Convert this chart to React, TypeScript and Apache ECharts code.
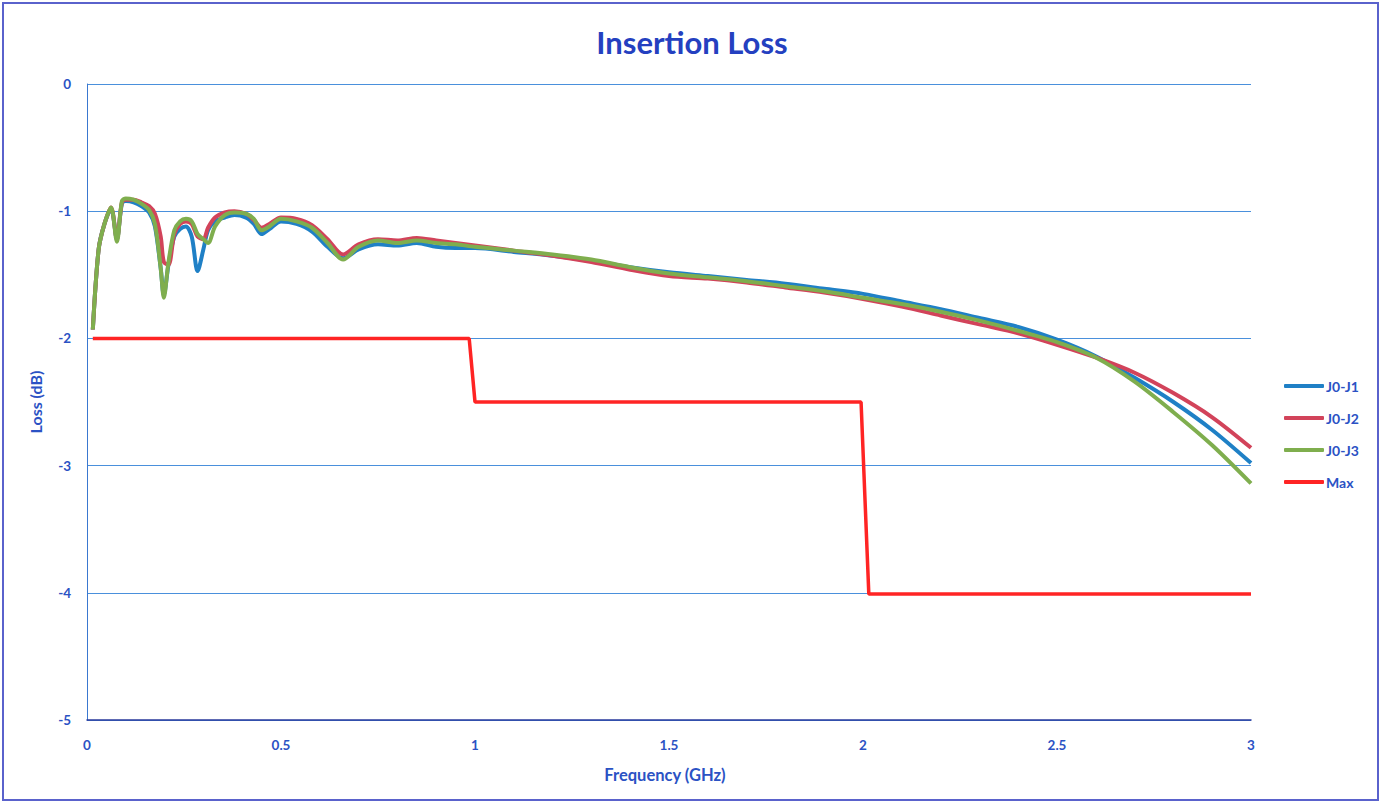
import React, { useEffect, useRef } from "react";
import * as echarts from "echarts";

const freq = [0.015, 0.03, 0.045, 0.062, 0.077, 0.09, 0.1, 0.12, 0.14, 0.16, 0.175, 0.19, 0.198, 0.21, 0.225, 0.24, 0.255, 0.27, 0.285, 0.3, 0.312, 0.33, 0.355, 0.38, 0.41, 0.43, 0.45, 0.47, 0.5, 0.54, 0.58, 0.62, 0.66, 0.7, 0.75, 0.8, 0.85, 0.9, 0.95, 1.0, 1.1, 1.2, 1.3, 1.4, 1.5, 1.6, 1.7, 1.8, 1.9, 2.0, 2.1, 2.2, 2.3, 2.4, 2.5, 2.6, 2.7, 2.8, 2.9, 3.0];

const lossJ1 = [-1.93, -1.3, -1.1, -0.98, -1.22, -0.94, -0.92, -0.93, -0.96, -1.01, -1.12, -1.45, -1.66, -1.42, -1.2, -1.14, -1.12, -1.2, -1.47, -1.3, -1.15, -1.08, -1.05, -1.03, -1.05, -1.1, -1.18, -1.14, -1.08, -1.1, -1.16, -1.28, -1.37, -1.3, -1.26, -1.27, -1.25, -1.28, -1.29, -1.29, -1.32, -1.35, -1.39, -1.44, -1.48, -1.51, -1.54, -1.57, -1.61, -1.65, -1.71, -1.77, -1.84, -1.91, -2.01, -2.14, -2.31, -2.5, -2.72, -2.98];

const lossJ2 = [-1.93, -1.3, -1.1, -0.97, -1.22, -0.93, -0.91, -0.91, -0.93, -0.96, -1.02, -1.2, -1.4, -1.42, -1.18, -1.1, -1.08, -1.1, -1.2, -1.22, -1.13, -1.05, -1.01, -1.0, -1.02, -1.07, -1.13, -1.1, -1.05, -1.06, -1.11, -1.22, -1.34, -1.26, -1.22, -1.23, -1.21, -1.23, -1.25, -1.27, -1.31, -1.35, -1.4, -1.46, -1.51, -1.53, -1.56, -1.6, -1.64, -1.69, -1.75, -1.82, -1.89, -1.96, -2.05, -2.15, -2.27, -2.43, -2.62, -2.86];

const lossJ3 = [-1.93, -1.3, -1.1, -0.97, -1.24, -0.92, -0.9, -0.91, -0.94, -0.99, -1.1, -1.45, -1.68, -1.4, -1.15, -1.08, -1.06, -1.08, -1.18, -1.22, -1.25, -1.12, -1.03, -1.01, -1.02, -1.06, -1.15, -1.12, -1.06, -1.08, -1.13, -1.25, -1.38, -1.28, -1.23, -1.25, -1.23, -1.25, -1.26, -1.28, -1.31, -1.34, -1.38, -1.44, -1.49, -1.52, -1.55, -1.59, -1.63, -1.68, -1.73, -1.79, -1.86, -1.94, -2.03, -2.15, -2.34, -2.58, -2.84, -3.14];

const maxFreq = [0.015, 0.985, 1.0, 1.995, 2.015, 3.0];
const maxLoss = [-2.0, -2.0, -2.5, -2.5, -4.01, -4.01];

const seriesNames = ["J0-J1", "J0-J2", "J0-J3", "Max"];
const seriesColors = ["#1f80c6", "#d2435a", "#7fae4e", "#ff2424"];

const xTicks = { min: 0, max: 3, interval: 0.5 };
const yTicks = { min: -5, max: 0, interval: 1 };

const blue = "#2b52c4";
const font = "Lato";

function pairs(xs: number[], ys: number[]) {
  return xs.map((x, i) => [x, ys[i]]);
}

export default function App() {
  const ref = useRef<HTMLDivElement>(null);
  useEffect(() => {
    if (!ref.current) return;
    const chart = echarts.init(ref.current, undefined, { renderer: "svg" });
    const datasets = [pairs(freq, lossJ1), pairs(freq, lossJ2), pairs(freq, lossJ3), pairs(maxFreq, maxLoss)];
    chart.setOption({
      animation: false,
      backgroundColor: "#ffffff",
      title: {
        text: "Insertion Loss",
        left: 687,
        textAlign: "center",
        top: 21,
        textStyle: { color: "#2440c0", fontSize: 31, fontWeight: "bold", fontFamily: font },
      },
      graphic: [
        {
          type: "rect",
          shape: { x: 3, y: 3, width: 1375, height: 797 },
          style: { fill: "none", stroke: "#5a62cc", lineWidth: 2 },
          silent: true,
        },
      ],
      legend: {
        orient: "vertical",
        left: 1279,
        top: 374,
        itemGap: 18,
        itemWidth: 40,
        itemHeight: 4,
        icon: "roundRect",
        data: seriesNames,
        textStyle: { color: blue, fontSize: 14, fontWeight: "bold", fontFamily: font, padding: [0, 0, 0, -3] },
      },
      grid: { left: 87, right: 133, top: 84, bottom: 84, containLabel: false },
      xAxis: {
        type: "value",
        min: xTicks.min,
        max: xTicks.max,
        interval: xTicks.interval,
        name: "Frequency (GHz)",
        nameLocation: "middle",
        nameGap: 46,
        nameTextStyle: { color: blue, fontSize: 16.5, fontWeight: "bold", fontFamily: font, padding: [0, 8, 0, 0] },
        axisLine: { show: true, onZero: false, lineStyle: { color: "#2a3a9c", width: 1.5 } },
        axisTick: { show: false },
        splitLine: { show: false },
        axisLabel: { color: blue, fontSize: 13.5, fontWeight: "bold", fontFamily: font, margin: 18 },
      },
      yAxis: {
        type: "value",
        min: yTicks.min,
        max: yTicks.max,
        interval: yTicks.interval,
        name: "Loss (dB)",
        nameLocation: "middle",
        nameGap: 44,
        nameTextStyle: { color: blue, fontSize: 16, fontWeight: "bold", fontFamily: font },
        axisLine: { show: true, onZero: false, lineStyle: { color: "#3a78d0", width: 1 } },
        axisTick: { show: false },
        splitLine: { show: true, lineStyle: { color: "#4a90dc", width: 1 } },
        axisLabel: { color: blue, fontSize: 13.5, fontWeight: "bold", fontFamily: font, margin: 16 },
      },
      series: seriesNames.map((name, i) => ({
        name,
        type: "line",
        data: datasets[i],
        showSymbol: false,
        symbol: "none",
        smooth: i === 3 ? false : 0.3,
        z: i === 3 ? 5 : 2 + i,
        lineStyle: { color: seriesColors[i], width: i === 3 ? 3.5 : 4 },
        itemStyle: { color: seriesColors[i] },
      })),
    });
    return () => chart.dispose();
  }, []);
  return <div ref={ref} style={{ position: "absolute", left: 0, top: 0, width: 1384, height: 804 }} />;
}
